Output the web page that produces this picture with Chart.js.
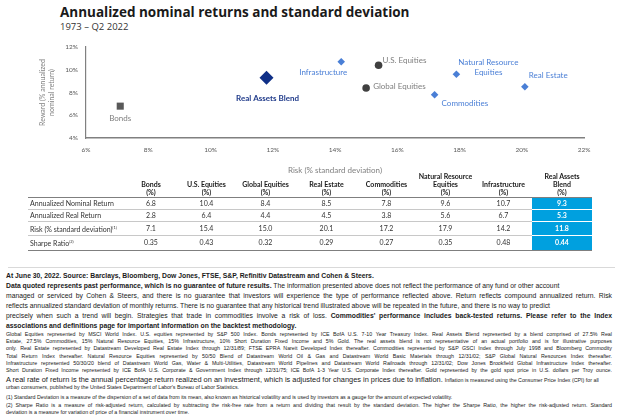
<!DOCTYPE html>
<html>
<head>
<meta charset="utf-8">
<script src="https://cdn.jsdelivr.net/npm/chart.js@4.4.0/dist/chart.umd.min.js"></script>
<style>
  html, body { margin: 0; padding: 0; background: #fff; }
  body { width: 624px; height: 420px; position: relative; overflow: hidden; font-family: 'Liberation Sans', Arial, sans-serif; color: #1a1a1a; }
  #title { position: absolute; left: 60px; top: 3px; font-family: 'Open Sans'; font-weight: 700; font-size: 13.5px; color: #1a1a1a; white-space: nowrap; }
  #subtitle { position: absolute; left: 60px; top: 20px; font-family: 'Open Sans'; font-size: 9.5px; color: #333; white-space: nowrap; }
  #chartBox { position: absolute; left: 0; top: 0; width: 624px; height: 180px; }
  #stats { position: absolute; left: 28px; top: 172px; border-collapse: collapse; table-layout: fixed; font-family: 'Lato'; font-size: 7px; color: #333; }
  #stats th { font-weight: 700; text-align: center; vertical-align: bottom; line-height: 8px; padding: 0 0 1px 0; border-bottom: 1.5px solid #7f7f7f; color: #1a1a1a; }
  #stats td { height: 11px; line-height: 11px; padding: 0; text-align: center; border-bottom: 1px solid #c8c8c8; white-space: nowrap; }
  #stats td.lbl { text-align: left; padding-left: 2px; }
  #stats tr:last-child td { border-bottom: 1.5px solid #7f7f7f; }
  #stats td.hl { background: #00a0df; color: #fff; font-weight: 700; border-bottom: 1px solid #fff; }
  #stats tr:last-child td.hl { border-bottom: 1.5px solid #7f7f7f; }
  #rule { position: absolute; left: 8px; top: 267px; width: 607px; height: 1px; background: #d9d9d9; }
  .ln { position: absolute; left: 6px; white-space: nowrap; font-family: 'Liberation Sans', Arial, sans-serif; }
  .big { font-size: 6.8px; }
  .sm { font-size: 5.3px; }
  .mid { font-size: 7.4px; }
  b { font-weight: 700; }
</style>
</head>
<body>
<div id="title">Annualized nominal returns and standard deviation</div>
<div id="subtitle">1973 – Q2 2022</div>
<div id="chartBox"><canvas id="riskReturnChart" width="624" height="180"></canvas></div>
<table id="stats"></table>
<div id="rule"></div>
<div id="notes"></div>

<script>
// asset classes, in table order
const categories = ['Bonds', 'U.S. Equities', 'Global Equities', 'Real Estate', 'Commodities', 'Natural Resource Equities', 'Infrastructure', 'Real Assets Blend'];
const headerLines = [['Bonds'], ['U.S. Equities'], ['Global Equities'], ['Real Estate'], ['Commodities'], ['Natural Resource', 'Equities'], ['Infrastructure'], ['Real Assets', 'Blend']];
const nominalReturn = [6.8, 10.4, 8.4, 8.5, 7.8, 9.6, 10.7, 9.3];
const realReturn = [2.8, 6.4, 4.4, 4.5, 3.8, 5.6, 6.7, 5.3];
const riskStdDev = [7.1, 15.4, 15.0, 20.1, 17.2, 17.9, 14.2, 11.8];
const sharpeRatio = [0.35, 0.43, 0.32, 0.29, 0.27, 0.35, 0.48, 0.44];
const rowLabels = ['Annualized Nominal Return', 'Annualized Real Return', 'Risk (% standard deviation)<sup>(1)</sup>', 'Sharpe Ratio<sup>(2)</sup>'];

// groups used for marker styles
const bondGroup = ['Bonds'];
const equityGroup = ['U.S. Equities', 'Global Equities'];
const realAssetGroup = ['Real Estate', 'Commodities', 'Natural Resource Equities', 'Infrastructure'];
const blendGroup = ['Real Assets Blend'];

const xTicks = [6, 8, 10, 12, 14, 16, 18, 20, 22];
const yTicks = [4, 6, 8, 10, 12];

// label placement next to each marker (pixel offsets)
const labelStyle = {
    'Bonds': { dx: 0, dy: 12, align: 'center', color: '#7f7f7f' },
    'U.S. Equities': { dx: 4, dy: -5, align: 'left', color: '#7f7f7f' },
    'Global Equities': { dx: 7, dy: -2, align: 'left', color: '#7f7f7f' },
    'Real Estate': { dx: 4, dy: -11, align: 'left', color: '#4a7fd6' },
    'Commodities': { dx: 7, dy: 9, align: 'left', color: '#4a7fd6' },
    'Natural Resource Equities': { dx: 32, dy: -12, align: 'center', color: '#4a7fd6', lines: ['Natural Resource', 'Equities'] },
    'Infrastructure': { dx: -18, dy: 11, align: 'center', color: '#4a7fd6' },
    'Real Assets Blend': { dx: 1, dy: 21, align: 'center', color: '#1f3a8a', bold: true }
};

function pointsFor(group) {
    return group.map(name => {
        const i = categories.indexOf(name);
        return { x: riskStdDev[i], y: nominalReturn[i], name: name };
    });
}

const pointLabelPlugin = {
    id: 'pointLabels',
    afterDatasetsDraw(chart) {
        const ctx = chart.ctx;
        ctx.save();
        ctx.textBaseline = 'middle';
        chart.data.datasets.forEach((ds, di) => {
            const meta = chart.getDatasetMeta(di);
            meta.data.forEach((el, i) => {
                const name = ds.data[i].name;
                const st = labelStyle[name];
                if (!st) return;
                ctx.font = (st.bold ? '700 ' : '') + '8px Lato';
                ctx.fillStyle = st.color;
                ctx.textAlign = st.align;
                const lines = st.lines || [name];
                lines.forEach((t, k) => {
                    ctx.fillText(t, el.x + st.dx, el.y + st.dy + k * 10);
                });
            });
        });
        ctx.restore();
    }
};

const ctx = document.getElementById('riskReturnChart').getContext('2d');
new Chart(ctx, {
    type: 'scatter',
    data: {
        datasets: [
            { label: 'Bonds', data: pointsFor(bondGroup), pointStyle: 'rect', pointRadius: 5, backgroundColor: '#595959', borderWidth: 0 },
            { label: 'Equities', data: pointsFor(equityGroup), pointStyle: 'circle', pointRadius: 3.8, backgroundColor: '#404040', borderWidth: 0 },
            { label: 'Real Assets', data: pointsFor(realAssetGroup), pointStyle: 'rectRot', pointRadius: 3.8, backgroundColor: '#4a7fd6', borderWidth: 0 },
            { label: 'Real Assets Blend', data: pointsFor(blendGroup), pointStyle: 'rectRot', pointRadius: 7, backgroundColor: '#0f2f87', borderWidth: 0 }
        ]
    },
    options: {
        responsive: false,
        animation: false,
        devicePixelRatio: 1,
        layout: { padding: { left: 38, right: 40, top: 47, bottom: 5 } },
        plugins: {
            legend: { display: false },
            tooltip: { enabled: false }
        },
        scales: {
            x: {
                type: 'linear',
                min: 6,
                max: 22,
                afterBuildTicks: scale => { scale.ticks = xTicks.map(v => ({ value: v })); },
                afterFit: scale => { scale.height = 37; scale.paddingLeft = 0; scale.paddingRight = 0; },
                grid: { display: false, drawTicks: false },
                border: { color: '#808080', width: 1.5 },
                ticks: {
                    padding: 8,
                    color: '#595959',
                    font: { family: 'Lato', size: 6.5 },
                    callback: v => v + '%'
                },
                title: {
                    display: true,
                    text: 'Risk (% standard deviation)',
                    color: '#808080',
                    font: { family: 'Lato', size: 8 },
                    padding: 0
                }
            },
            y: {
                type: 'linear',
                min: 4,
                max: 12,
                afterBuildTicks: scale => { scale.ticks = yTicks.map(v => ({ value: v })); },
                afterFit: scale => { scale.width = 48; scale.paddingTop = 0; scale.paddingBottom = 0; },
                grid: { display: false, drawTicks: false },
                border: { color: '#808080', width: 1.2 },
                ticks: {
                    padding: 8,
                    color: '#595959',
                    font: { family: 'Lato', size: 6.5 },
                    callback: v => v + '%'
                },
                title: {
                    display: true,
                    text: ['Reward (% annualized', 'nominal return)'],
                    color: '#808080',
                    font: { family: 'Lato', size: 7, lineHeight: 1.3 },
                    padding: 0
                }
            }
        }
    },
    plugins: [pointLabelPlugin]
});
// chart area spans 86..584 by 47..138

// stats table
const colWidths = [96, 54, 57, 61, 61, 59, 59, 57, 60];
const table = document.getElementById('stats');
let html = '<colgroup>' + colWidths.map(w => '<col style="width:' + w + 'px">').join('') + '</colgroup>';
html += '<tr><th style="border-bottom:1.5px solid #7f7f7f"></th>' + headerLines.map(h => '<th>' + h.join('<br>') + '<br>(%)</th>').join('') + '</tr>';
const rows = [nominalReturn, realReturn, riskStdDev, sharpeRatio];
rows.forEach((vals, r) => {
    const digits = r === 3 ? 2 : 1;
    html += '<tr><td class="lbl">' + rowLabels[r].replace(/<sup>/g, '<sup style="font-size:4px">') + '</td>';
    vals.forEach((v, c) => {
        const cls = c === vals.length - 1 ? ' class="hl"' : '';
        html += '<td' + cls + '>' + v.toFixed(digits) + '</td>';
    });
    html += '</tr>';
});
table.innerHTML = html;
table.style.width = colWidths.reduce((a, b) => a + b, 0) + 'px';

// footnotes, one line per entry
const noteLines = [
    { top: 272, cls: 'big', just: false, html: '<b>At June 30, 2022. Source: Barclays, Bloomberg, Dow Jones, FTSE, S&amp;P, Refinitiv Datastream and Cohen &amp; Steers.</b>' },
    { top: 282, cls: 'big', just: false, html: '<b>Data quoted represents past performance, which is no guarantee of future results.</b> The information presented above does not reflect the performance of any fund or other account' },
    { top: 292, cls: 'big', just: true, html: 'managed or serviced by Cohen &amp; Steers, and there is no guarantee that investors will experience the type of performance reflected above. Return reflects compound annualized return. Risk' },
    { top: 302, cls: 'big', just: false, html: 'reflects annualized standard deviation of monthly returns. There is no guarantee that any historical trend illustrated above will be repeated in the future, and there is no way to predict' },
    { top: 312, cls: 'big', just: true, html: 'precisely when such a trend will begin. Strategies that trade in commodities involve a risk of loss. <b>Commodities\' performance includes back-tested returns. Please refer to the Index</b>' },
    { top: 322, cls: 'big', just: false, html: '<b>associations and definitions page for important information on the backtest methodology.</b>' },
    { top: 331, cls: 'sm', just: true, html: 'Global Equities represented by MSCI World Index. U.S. equities represented by S&amp;P 500 Index. Bonds represented by ICE BofA U.S. 7-10 Year Treasury Index. Real Assets Blend represented by a blend comprised of 27.5% Real' },
    { top: 338.2, cls: 'sm', just: true, html: 'Estate, 27.5% Commodities, 15% Natural Resource Equities, 15% Infrastructure, 10% Short Duration Fixed Income and 5% Gold. The real assets blend is not representative of an actual portfolio and is for illustrative purposes' },
    { top: 345.4, cls: 'sm', just: true, html: 'only. Real Estate represented by Datastream Developed Real Estate Index through 12/31/89; FTSE EPRA Nareit Developed Index thereafter. Commodities represented by S&amp;P GSCI Index through July 1998 and Bloomberg Commodity' },
    { top: 352.6, cls: 'sm', just: true, html: 'Total Return Index thereafter. Natural Resource Equities represented by 50/50 Blend of Datastream World Oil &amp; Gas and Datastream World Basic Materials through 12/31/02; S&amp;P Global Natural Resources Index thereafter.' },
    { top: 359.8, cls: 'sm', just: true, html: 'Infrastructure represented 50/30/20 blend of Datastream World Gas, Water &amp; Multi-Utilities, Datastream World Pipelines and Datastream World Railroads through 12/31/02; Dow Jones Brookfield Global Infrastructure Index thereafter.' },
    { top: 367, cls: 'sm', just: true, html: 'Short Duration Fixed Income represented by ICE BofA U.S. Corporate &amp; Government Index through 12/31/75; ICE BofA 1-3 Year U.S. Corporate Index thereafter. Gold represented by the gold spot price in U.S. dollars per Troy ounce.' },
    { top: 375, cls: 'mid', just: false, html: 'A real rate of return is the annual percentage return realized on an investment, which is adjusted for changes in prices due to inflation. <span style="font-size:5.3px">Inflation is measured using the Consumer Price Index (CPI) for all</span>' },
    { top: 384, cls: 'sm', just: false, html: 'urban consumers, published by the United States Department of Labor\'s Bureau of Labor Statistics.' },
    { top: 394, cls: 'sm', just: false, html: '(1) Standard Deviation is a measure of the dispersion of a set of data from its mean, also known as historical volatility and is used by investors as a gauge for the amount of expected volatility.' },
    { top: 401.5, cls: 'sm', just: true, html: '(2) Sharpe Ratio is a measure of risk-adjusted return, calculated by subtracting the risk-free rate from a return and dividing that result by the standard deviation. The higher the Sharpe Ratio, the higher the risk-adjusted return. Standard' },
    { top: 409, cls: 'sm', just: false, html: 'deviation is a measure for variation of price of a financial instrument over time.' }
];

const notes = document.getElementById('notes');
const lineWidth = 606;
noteLines.forEach(line => {
    const div = document.createElement('div');
    div.className = 'ln ' + line.cls;
    div.style.top = line.top + 'px';
    div.innerHTML = line.html;
    notes.appendChild(div);
    // stretch full lines to the right margin by word spacing
    const natural = div.getBoundingClientRect().width;
    if (natural > lineWidth) {
        div.style.transformOrigin = '0 0';
        div.style.transform = 'scaleX(' + (lineWidth / natural) + ')';
    } else if (line.just) {
        const gaps = (div.textContent.match(/ /g) || []).length;
        if (gaps) div.style.wordSpacing = ((lineWidth - natural) / gaps) + 'px';
    }
});
</script>
</body>
</html>
